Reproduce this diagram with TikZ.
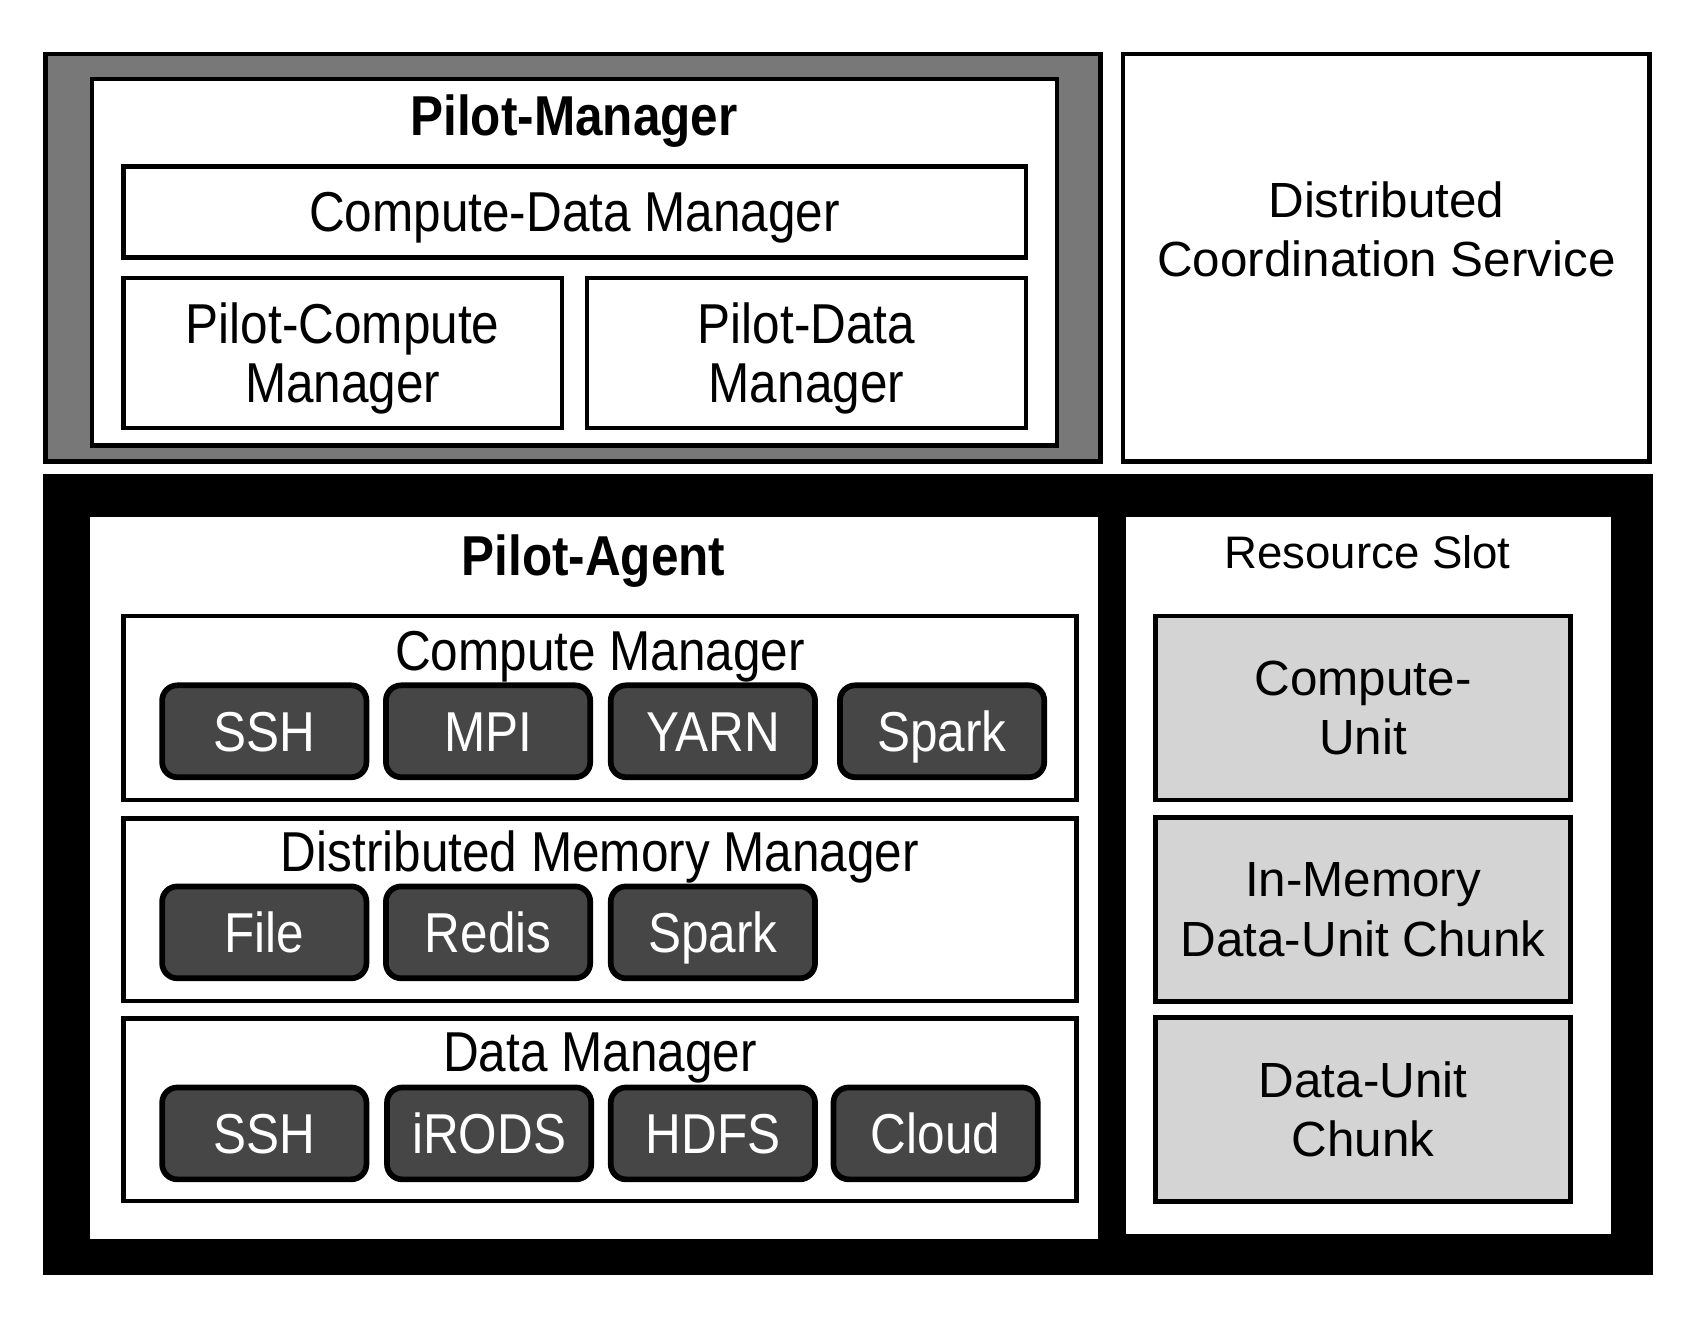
\documentclass[tikz,border=0pt]{standalone}
\usepackage{fontspec}
\setmainfont{Liberation Sans}
\newfontfamily\narrowsans[FakeStretch=0.88]{Liberation Sans}
\usepackage{tikz}

\definecolor{pmgray}{HTML}{787878}
\definecolor{btngray}{HTML}{464646}
\definecolor{unitgray}{HTML}{D4D4D4}

\newcommand\lefttxt{\narrowsans\fontsize{14.8}{15.6}\selectfont}
\newcommand\righttxt{\fontsize{13}{15.6}\selectfont}

\tikzset{
  mgrbox/.style={draw=black, line width=1.2pt, fill=white, inner sep=0pt},
  hole/.style={fill=white, inner sep=0pt},
  titletext/.style={anchor=base, inner sep=0pt, font=\lefttxt},
  onelinetext/.style={text height=10.6pt, text depth=0pt},
  btn/.style={draw=black, line width=1.5pt, fill=btngray, rounded corners=4pt,
    minimum width=18.9mm, minimum height=8.5mm, inner sep=0pt,
    text=white, font=\lefttxt, onelinetext},
  unitbox/.style={mgrbox, fill=unitgray, minimum width=38.4mm, minimum height=17mm,
    align=center, font=\righttxt}
}

\begin{document}
\begin{tikzpicture}[x=0.1mm, y=-0.1mm]
\useasboundingbox (0,0) rectangle (1568,1221);

% Pilot-Manager part
\node[mgrbox, fill=pmgray, minimum width=97.6mm, minimum height=37.7mm] (pmouter) at (530,238.5) {};
\node[mgrbox, minimum width=89.3mm, minimum height=33.9mm] (pm) at (531.5,242.5) {};
\node[titletext, font=\lefttxt\bfseries] (pmtitle) at (531,125) {Pilot-Manager};
\node[mgrbox, minimum width=83.5mm, minimum height=8.4mm, font=\lefttxt, onelinetext] (cdm) at (531.5,196) {Compute-Data Manager};
\node[mgrbox, minimum width=40.6mm, minimum height=13.9mm, font=\lefttxt, align=center, text depth=0pt] (pcm) at (317,326.5) {Pilot-Compute\\Manager};
\node[mgrbox, minimum width=40.6mm, minimum height=13.9mm, font=\lefttxt, align=center, text depth=0pt] (pdm) at (746,326.5) {Pilot-Data\\Manager};

% coordination service
\node[mgrbox, minimum width=48.7mm, minimum height=37.7mm] (dcs) at (1282.5,238.5) {};
\node[font=\righttxt, align=center, inner sep=0pt] (dcstext) at (1282.5,212) {Distributed\\Coordination Service};

% Pilot-Agent part
\node[mgrbox, fill=black, minimum width=148.5mm, minimum height=73.6mm] (paouter) at (784.5,809) {};
\node[hole, minimum width=93.3mm, minimum height=66.8mm] (pa) at (549.5,812) {};
\node[titletext, font=\lefttxt\bfseries] (patitle) at (549,532) {Pilot-Agent};

\node[mgrbox, minimum width=88.2mm, minimum height=17mm] (cm) at (555,655) {};
\node[titletext] (cmtitle) at (555,620) {Compute Manager};
\foreach \nm/\txt/\x in {cmssh/SSH/244.5, cmmpi/MPI/451.5, cmyarn/YARN/659.5, cmspark/Spark/871.5}
  \node[btn] (\nm) at (\x,676.5) {\txt};

\node[mgrbox, minimum width=88.2mm, minimum height=16.9mm] (dmm) at (555,841.5) {};
\node[titletext] (dmmtitle) at (555,806) {Distributed Memory Manager};
\foreach \nm/\txt/\x in {dmmfile/File/244.5, dmmredis/Redis/451.5, dmmspark/Spark/659.5}
  \node[btn] (\nm) at (\x,862.5) {\txt};

\node[mgrbox, minimum width=88.2mm, minimum height=16.9mm] (dm) at (555,1026.5) {};
\node[titletext] (dmtitle) at (555,991) {Data Manager};
\foreach \nm/\txt/\x in {dmssh/SSH/244.5, dmirods/iRODS/452.5, dmhdfs/HDFS/659.5, dmcloud/Cloud/865.5}
  \node[btn] (\nm) at (\x,1048.5) {\txt};

% resource slot
\node[hole, minimum width=44.8mm, minimum height=66.4mm] (rs) at (1266,810) {};
\node[anchor=base, inner sep=0pt, font=\fontsize{12}{14}\selectfont] (rstitle) at (1265,526) {Resource Slot};
\node[unitbox] (cu) at (1261,655) {Compute-\\Unit};
\node[unitbox] (imc) at (1261,841.5) {In-Memory\\Data-Unit Chunk};
\node[unitbox] (duc) at (1261,1026.5) {Data-Unit\\Chunk};
\end{tikzpicture}
\end{document}
